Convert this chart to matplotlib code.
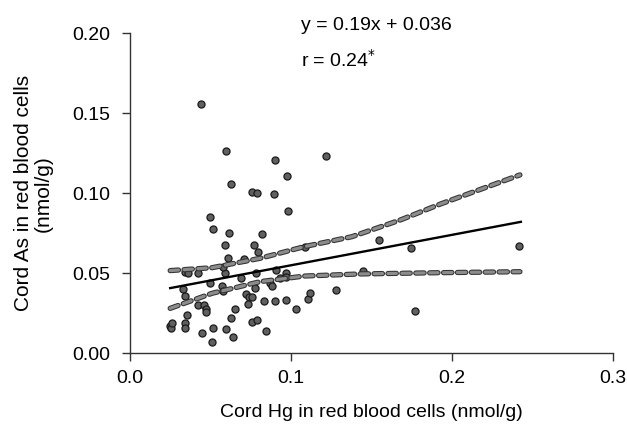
import matplotlib.pyplot as plt
import matplotlib.patheffects as pe

plt.rcParams['font.family'] = ['Liberation Sans', 'DejaVu Sans']
plt.rcParams['lines.scale_dashes'] = False

# Cord Hg (x) and cord As (y) in red blood cells, nmol/g
hg = [0.0444, 0.0599, 0.122, 0.0903, 0.0973, 0.0631, 0.076, 0.0788, 0.0893, 0.098,
      0.0496, 0.0516, 0.0613, 0.0823, 0.155, 0.0591, 0.077, 0.242, 0.1746, 0.0798,
      0.1085, 0.0611, 0.0706, 0.025, 0.0255, 0.026, 0.034, 0.0345, 0.0357, 0.033,
      0.034, 0.034, 0.036, 0.042, 0.042, 0.046, 0.047, 0.0475, 0.050, 0.045,
      0.051, 0.0516, 0.057, 0.0576, 0.059, 0.058, 0.060, 0.063, 0.064, 0.065,
      0.069, 0.072, 0.074, 0.076, 0.0735, 0.0756, 0.079, 0.0785, 0.078, 0.0835,
      0.0845, 0.087, 0.088, 0.090, 0.091, 0.093, 0.097, 0.097, 0.097, 0.103,
      0.1105, 0.112, 0.128, 0.1446, 0.177]
ras = [0.156, 0.1265, 0.123, 0.1206, 0.111, 0.106, 0.1006, 0.1002, 0.0998, 0.0888,
       0.085, 0.078, 0.0754, 0.0746, 0.0708, 0.068, 0.0677, 0.0673, 0.066, 0.0631,
       0.0663, 0.0594, 0.0588, 0.017, 0.016, 0.019, 0.019, 0.016, 0.024, 0.040,
       0.036, 0.051, 0.050, 0.050, 0.030, 0.030, 0.028, 0.026, 0.044, 0.0125,
       0.0073, 0.016, 0.042, 0.039, 0.050, 0.054, 0.015, 0.022, 0.0104, 0.0275,
       0.047, 0.037, 0.035, 0.035, 0.031, 0.0198, 0.021, 0.050, 0.041, 0.033,
       0.014, 0.044, 0.042, 0.0327, 0.052, 0.047, 0.050, 0.0475, 0.0333, 0.0275,
       0.034, 0.038, 0.0396, 0.0515, 0.0267]

slope, intercept = 0.19, 0.036
x_fit = [0.025, 0.243]

# 95% confidence band
band_x = [0.025, 0.051, 0.081, 0.1085, 0.138, 0.168, 0.193, 0.2424]
band_upper = [0.0517, 0.0535, 0.0594, 0.0667, 0.0729, 0.0833, 0.0933, 0.1115]
band_x_low = [0.025, 0.051, 0.081, 0.1085, 0.143, 0.193, 0.2424]
band_lower = [0.0281, 0.0375, 0.0448, 0.0483, 0.0496, 0.0504, 0.051]

fig = plt.figure(figsize=(6.27, 4.24), dpi=100)
ax = fig.add_axes([0.2073, 0.1667, 0.7697, 0.7548])

ax.scatter(hg, ras, s=26, color='#606060', edgecolor='#1a1a1a', linewidth=0.9, zorder=3)

ax.plot(x_fit, [slope * v + intercept for v in x_fit], color='black', lw=1.7, zorder=4)

dash_fx = [pe.Stroke(linewidth=3.8, foreground='#333333'), pe.Normal()]
for bx, by in [(band_x, band_upper), (band_x_low, band_lower)]:
    ax.plot(bx, by, color='#8c8c8c', lw=2.3, dashes=(6, 4), dash_capstyle='round',
            path_effects=dash_fx, zorder=4)

ax.set_xlim(0, 0.3)
ax.set_ylim(0, 0.2)
ax.set_xticks([0.0, 0.1, 0.2, 0.3])
ax.set_xticklabels(['0.0', '0.1', '0.2', '0.3'])
ax.set_yticks([0.0, 0.05, 0.10, 0.15, 0.20])
ax.set_yticklabels(['0.00', '0.05', '0.10', '0.15', '0.20'])
for side in ['top', 'right']:
    ax.spines[side].set_visible(False)
for side in ['left', 'bottom']:
    ax.spines[side].set_color('#333333')
    ax.spines[side].set_linewidth(1.0)
ax.tick_params(direction='out', length=6, width=1, color='#333333',
               labelsize=14, pad=6)
ax.tick_params(axis='y', pad=8)

ax.set_xlabel('Cord Hg in red blood cells (nmol/g)', fontsize=14, labelpad=12)
ax.set_ylabel('Cord As in red blood cells\n(nmol/g)', fontsize=15, labelpad=14,
              linespacing=1.05)

ax.text(0.1065, 0.205, 'y = 0.19x + 0.036', fontsize=14, va='center', clip_on=False)
ax.text(0.1065, 0.1835, r'r = 0.24$^{*}$', fontsize=14, va='center', clip_on=False)

fig.savefig('out.png', dpi=100)
